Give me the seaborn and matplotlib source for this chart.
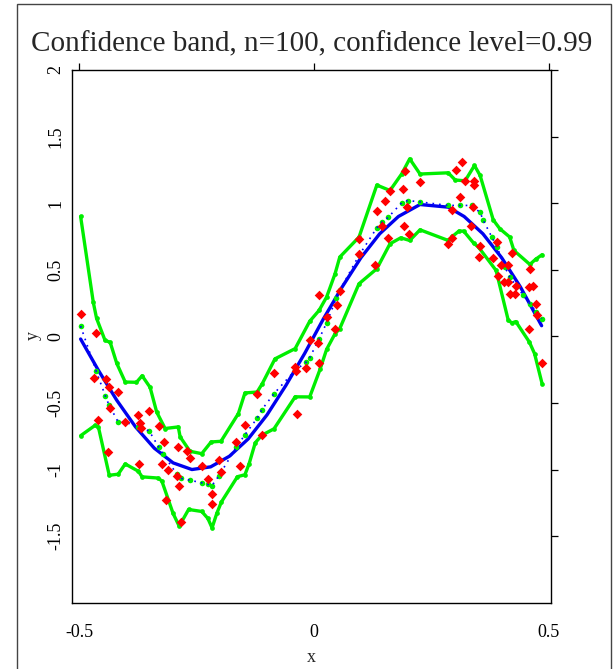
import matplotlib
matplotlib.use("Agg")
import matplotlib.pyplot as plt
from matplotlib.patches import Rectangle
import seaborn as sns
import pandas as pd

# ---- data ----
obs_x = [-0.497, -0.464, -0.469, -0.443, -0.436, -0.417, -0.435, -0.460, -0.374, -0.351,
         -0.402, -0.370, -0.368, -0.331, -0.319, -0.290, -0.271, -0.264, -0.438, -0.372,
         -0.323, -0.310, -0.292, -0.287, -0.315, -0.283, -0.239, -0.203, -0.198, -0.226,
         -0.217, -0.217, -0.157, -0.165, -0.147, -0.111, -0.121, -0.086, -0.037, -0.040,
         -0.039, -0.016, -0.009, 0.009, 0.011, 0.011, 0.027, 0.045, 0.050, 0.055,
         0.096, 0.096, 0.131, 0.135, 0.145, 0.151, 0.158, 0.163, 0.189, 0.195,
         0.198, 0.191, 0.203, 0.226, 0.286, 0.294, 0.295, 0.303, 0.316, 0.311,
         0.322, 0.341, 0.341, 0.339, 0.334, 0.354, 0.352, 0.390, 0.382, 0.398,
         0.414, 0.422, 0.392, 0.405, 0.414, 0.430, 0.418, 0.429, 0.461, 0.458,
         0.467, 0.472, 0.475, 0.458, 0.485]
obs_y = [0.170, 0.028, -0.313, -0.323, -0.380, -0.420, -0.538, -0.630, -0.590, -0.560,
         -0.643, -0.653, -0.685, -0.673, -0.793, -0.830, -0.863, -0.910, -0.870, -0.960,
         -0.960, -1.000, -1.050, -1.123, -1.230, -1.393, -0.973, -0.932, -1.018, -1.070,
         -1.183, -1.262, -0.973, -0.793, -0.668, -0.743, -0.435, -0.272, -0.580, -0.230,
         -0.260, -0.235, -0.030, -0.050, -0.200, 0.313, 0.145, 0.053, 0.238, 0.338,
         0.728, 0.620, 0.538, 0.940, 0.825, 1.020, 0.740, 1.088, 1.108, 1.245,
         0.975, 0.827, 0.770, 1.157, 0.695, 0.737, 0.945, 1.247, 1.307, 1.050,
         1.165, 1.170, 1.138, 0.970, 0.827, 0.677, 0.598, 0.710, 0.587, 0.538,
         0.538, 0.628, 0.450, 0.410, 0.410, 0.377, 0.317, 0.317, 0.505, 0.370,
         0.377, 0.240, 0.163, 0.058, -0.200]

true_x = [-0.497, -0.46, -0.42, -0.38, -0.34, -0.30, -0.26, -0.22, -0.18, -0.14, -0.10,
          -0.06, -0.02, 0.02, 0.06, 0.10, 0.14, 0.18, 0.226, 0.286, 0.32, 0.36, 0.40,
          0.44, 0.485]
true_y = [-0.02, -0.25, -0.48, -0.68, -0.84, -0.95, -1.00, -0.98, -0.90, -0.77, -0.59,
          -0.37, -0.13, 0.13, 0.37, 0.59, 0.77, 0.90, 0.99, 0.97, 0.90, 0.77, 0.59,
          0.37, 0.08]

est_x = [-0.497, -0.464, -0.444, -0.437, -0.417, -0.402, -0.374, -0.351, -0.331, -0.322,
         -0.292, -0.283, -0.264, -0.239, -0.226, -0.217, -0.202, -0.165, -0.147, -0.121,
         -0.111, -0.085, -0.040, -0.017, -0.009, 0.011, 0.027, 0.048, 0.055, 0.096,
         0.134, 0.145, 0.158, 0.187, 0.200, 0.227, 0.286, 0.311, 0.336, 0.354,
         0.361, 0.379, 0.390, 0.407, 0.417, 0.432, 0.446, 0.460, 0.474, 0.485]
est_y = [0.077, -0.260, -0.450, -0.512, -0.643, -0.643, -0.683, -0.710, -0.830, -0.880,
         -1.035, -1.067, -1.080, -1.100, -1.112, -1.120, -1.045, -0.830, -0.739, -0.615,
         -0.551, -0.430, -0.255, -0.195, -0.160, -0.019, 0.101, 0.289, 0.345, 0.608,
         0.815, 0.857, 0.893, 1.003, 1.020, 1.009, 0.983, 0.983, 0.983, 0.930,
         0.870, 0.745, 0.670, 0.520, 0.445, 0.375, 0.308, 0.245, 0.182, 0.133]

up_x = [-0.497, -0.470, -0.463, -0.445, -0.434, -0.420, -0.402, -0.378, -0.366, -0.349,
        -0.335, -0.317, -0.289, -0.285, -0.264, -0.239, -0.219, -0.198, -0.161, -0.147,
        -0.121, -0.110, -0.083, -0.040, -0.009, 0.011, 0.027, 0.045, 0.055, 0.096,
        0.134, 0.162, 0.187, 0.204, 0.226, 0.286, 0.301, 0.322, 0.342, 0.354,
        0.382, 0.396, 0.417, 0.426, 0.460, 0.472, 0.486]
up_y = [0.900, 0.255, 0.135, -0.030, -0.045, -0.203, -0.343, -0.345, -0.296, -0.383,
        -0.568, -0.692, -0.680, -0.755, -0.863, -0.881, -0.793, -0.788, -0.580, -0.425,
        -0.418, -0.355, -0.169, -0.092, 0.113, 0.195, 0.295, 0.470, 0.595, 0.745,
        1.136, 1.095, 1.220, 1.333, 1.219, 1.228, 1.174, 1.168, 1.283, 1.208,
        0.874, 0.808, 0.746, 0.645, 0.540, 0.578, 0.613]

lo_x = [-0.497, -0.466, -0.459, -0.436, -0.417, -0.402, -0.374, -0.366, -0.332, -0.324,
        -0.300, -0.287, -0.267, -0.239, -0.226, -0.217, -0.207, -0.197, -0.163, -0.147,
        -0.138, -0.125, -0.111, -0.085, -0.040, -0.009, 0.013, 0.027, 0.045, 0.055,
        0.096, 0.134, 0.162, 0.185, 0.204, 0.226, 0.286, 0.295, 0.309, 0.319,
        0.340, 0.351, 0.388, 0.414, 0.422, 0.430, 0.459, 0.470, 0.486]
lo_y = [-0.746, -0.668, -0.683, -1.043, -1.035, -0.958, -1.013, -1.055, -1.064, -1.086,
        -1.330, -1.425, -1.300, -1.315, -1.367, -1.438, -1.330, -1.243, -1.054, -1.039,
        -0.956, -0.799, -0.743, -0.694, -0.454, -0.455, -0.248, -0.098, 0.020, 0.058,
        0.395, 0.508, 0.695, 0.740, 0.720, 0.800, 0.720, 0.750, 0.791, 0.790,
        0.701, 0.668, 0.495, 0.120, 0.101, 0.111, -0.043, -0.130, -0.355]

x_ticks = [-0.5, 0, 0.5]
x_tick_labels = ["-0.5", "0", "0.5"]
y_ticks = [-1.5, -1, -0.5, 0, 0.5, 1, 1.5, 2]
y_tick_labels = ["-1.5", "-1", "-0.5", "0", "0.5", "1", "1.5", "2"]
title = "Confidence band, n=100, confidence level=0.99"

# ---- style ----
sns.set_style("white")
plt.rcParams["font.family"] = ["Liberation Serif", "DejaVu Serif"]
plt.rcParams["axes.unicode_minus"] = False

W, H = 614, 669
fig = plt.figure(figsize=(W / 100, H / 100), dpi=100)
L, R, T, B = 71.7, 551.0, 70.0, 602.7
ax = fig.add_axes([L / W, 1 - B / H, (R - L) / W, (B - T) / H])

obs = pd.DataFrame({"x": obs_x, "y": obs_y})
true = pd.DataFrame({"x": true_x, "y": true_y})
est = pd.DataFrame({"x": est_x, "y": est_y})
up = pd.DataFrame({"x": up_x, "y": up_y})
lo = pd.DataFrame({"x": lo_x, "y": lo_y})

green = "#00ee00"
for band in (up, lo):
    sns.lineplot(data=band, x="x", y="y", ax=ax, color=green, lw=2.4,
                 marker="o", markersize=3.4, markeredgewidth=0, sort=False,
                 estimator=None, zorder=3)
sns.lineplot(data=true, x="x", y="y", ax=ax, color="#0000ee", lw=2.4,
             sort=False, estimator=None, zorder=4)
sns.scatterplot(data=est, x="x", y="y", ax=ax, color=green, s=16, linewidth=0,
                zorder=5)
ax.plot(est["x"], est["y"], color="#0000ff", lw=1.2, ls=(0, (1, 3)), zorder=6)
sns.scatterplot(data=obs, x="x", y="y", ax=ax, color="#ff0000", marker="D",
                s=24, linewidth=0, zorder=7)

ax.set_xlim(-0.516, 0.505)
ax.set_ylim(-2.0, 2.0)
ax.set_xticks(x_ticks)
ax.set_xticklabels(x_tick_labels)
ax.set_yticks(y_ticks)
ax.set_yticklabels(y_tick_labels, rotation=90, va="center")
ax.tick_params(axis="both", which="both", direction="out", length=5, width=0.9,
               colors="black", labelsize=13, top=True, right=True,
               labeltop=False, labelright=False)
ax.tick_params(axis="x", pad=10.5)
ax.tick_params(axis="y", pad=0.5)
for s in ax.spines.values():
    s.set_visible(True)
    s.set_color("black")
    s.set_linewidth(1.0)

ax.set_xlabel("")
ax.set_ylabel("")
fig.text(0.5 * (L + R) / W, 1 - 658 / H, "x", ha="center", va="center", fontsize=13)
fig.text(33 / W, 1 - 336 / H, "y", ha="center", va="center", rotation=90, fontsize=13)
fig.text(311.5 / W, 1 - 44 / H, title, ha="center", va="center", fontsize=21)

fig.patches.append(Rectangle((17 / W, -0.02), (611 - 17) / W, 1.02 - 4 / H,
                             transform=fig.transFigure, fill=False,
                             edgecolor="#444444", linewidth=1.0))

fig.savefig("out.png", dpi=100)
